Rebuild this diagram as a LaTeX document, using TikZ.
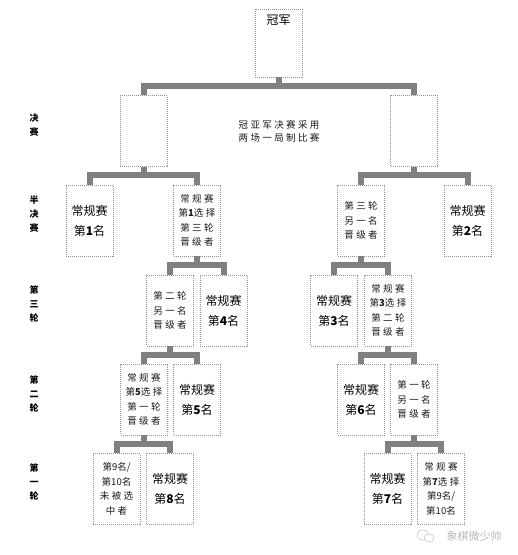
\documentclass[tikz,border=0pt]{standalone}
\usepackage{fontspec}
\setmainfont{Noto Sans CJK SC}
\newfontfamily\spcfont[LetterSpace=25]{Noto Sans CJK SC}
\newcommand\bdg[1]{{\normalfont\bfseries #1}}
\newcommand\ndg[1]{{\normalfont #1}}
\tikzset{
  x=1pt, y=-1pt,
  box/.style={draw=gray!85, dash pattern=on 1pt off 1pt, line width=0.5pt,
    minimum width=47pt, minimum height=71pt, inner sep=0pt, align=center},
  regbox/.style={box, font=\fontsize{12}{20}\selectfont},
  spbox/.style={box, font=\spcfont\fontsize{9.5}{14.5}\selectfont, text=black!90},
  bar/.style={draw=gray, line width=6pt, line join=miter},
  side/.style={font=\bfseries\fontsize{9}{14}\selectfont, align=center},
}
\newcommand\brk[4]{%
  \coordinate (#1m) at (0,#4);
  \draw[bar] (#2.north) -- (#2.north |- #1m) -- (#3.north |- #1m) -- (#3.north);
  \draw[bar] (#1.south) -- (#1.south |- #1m);}
\begin{document}
\begin{tikzpicture}
\useasboundingbox (0,0) rectangle (518,555);
% champion
\node[box, minimum height=68pt,
  label={[anchor=north, inner sep=0pt, yshift=-6pt, font=\fontsize{12}{14}\selectfont]north:冠军}]
  (champ) at (278.5,43) {};
% final
\node[box] (F1) at (143.5,131) {};
\node[box] (F2) at (414,131) {};
\node[font=\spcfont\fontsize{9.5}{13}\selectfont, align=center, text=black!90] (ftxt) at (279,131.5) {冠亚军决赛采用\\两场一局制比赛};
% semi
\node[regbox] (S1) at (89.5,220.5) {常规赛\\第\textbf{1}名};
\node[spbox] (S2) at (197,220.5) {常规赛\\第\bdg{1}选择\\第三轮\\晋级者};
\node[spbox] (S3) at (361,220.5) {第三轮\\另一名\\晋级者};
\node[regbox] (S4) at (467.5,220.5) {常规赛\\第\textbf{2}名};
% round 3
\node[spbox] (R3a) at (170,310.5) {第二轮\\另一名\\晋级者};
\node[regbox] (R3b) at (223.5,310.5) {常规赛\\第\textbf{4}名};
\node[regbox] (R3c) at (334,310.5) {常规赛\\第\textbf{3}名};
\node[spbox] (R3d) at (388,310.5) {常规赛\\第\bdg{3}选择\\第二轮\\晋级者};
% round 2
\node[spbox] (R2a) at (144,399.5) {常规赛\\第\bdg{5}选择\\第一轮\\晋级者};
\node[regbox] (R2b) at (197,399.5) {常规赛\\第\textbf{5}名};
\node[regbox] (R2c) at (361,399.5) {常规赛\\第\textbf{6}名};
\node[spbox] (R2d) at (414,399.5) {第一轮\\另一名\\晋级者};
% round 1
\node[spbox] (R1a) at (116.5,489) {第\ndg{9}名\ndg{/}\\第\ndg{10}名\\未被选\\中者};
\node[regbox] (R1b) at (170,489) {常规赛\\第\textbf{8}名};
\node[regbox] (R1c) at (387.5,489) {常规赛\\第\textbf{7}名};
\node[spbox] (R1d) at (441,489) {常规赛\\第\bdg{7}选择\\第\ndg{9}名\ndg{/}\\第\ndg{10}名};
% brackets
\brk{champ}{F1}{F2}{86}
\brk{F1}{S1}{S2}{175}
\brk{F2}{S3}{S4}{175}
\brk{S2}{R3a}{R3b}{265}
\brk{S3}{R3c}{R3d}{265}
\brk{R3a}{R2a}{R2b}{355}
\brk{R3d}{R2c}{R2d}{355}
\brk{R2a}{R1a}{R1b}{444}
\brk{R2d}{R1c}{R1d}{444}
% side labels
\node[side] (L1) at (34,125) {决\\赛};
\node[side] (L2) at (34,214) {半\\决\\赛};
\node[side] (L3) at (34,304) {第\\三\\轮};
\node[side] (L4) at (34,394) {第\\二\\轮};
\node[side] (L5) at (34,482) {第\\一\\轮};
% watermark
\draw[gray!45, line width=0.6pt] (423,535) ellipse (6pt and 5pt);
\draw[gray!45, line width=0.6pt, fill=white] (429,538) ellipse (5pt and 4pt);
\node[font=\fontsize{11}{13}\selectfont, text=gray!55] (wm) at (474,536) {象棋微少帅};
\end{tikzpicture}
\end{document}
